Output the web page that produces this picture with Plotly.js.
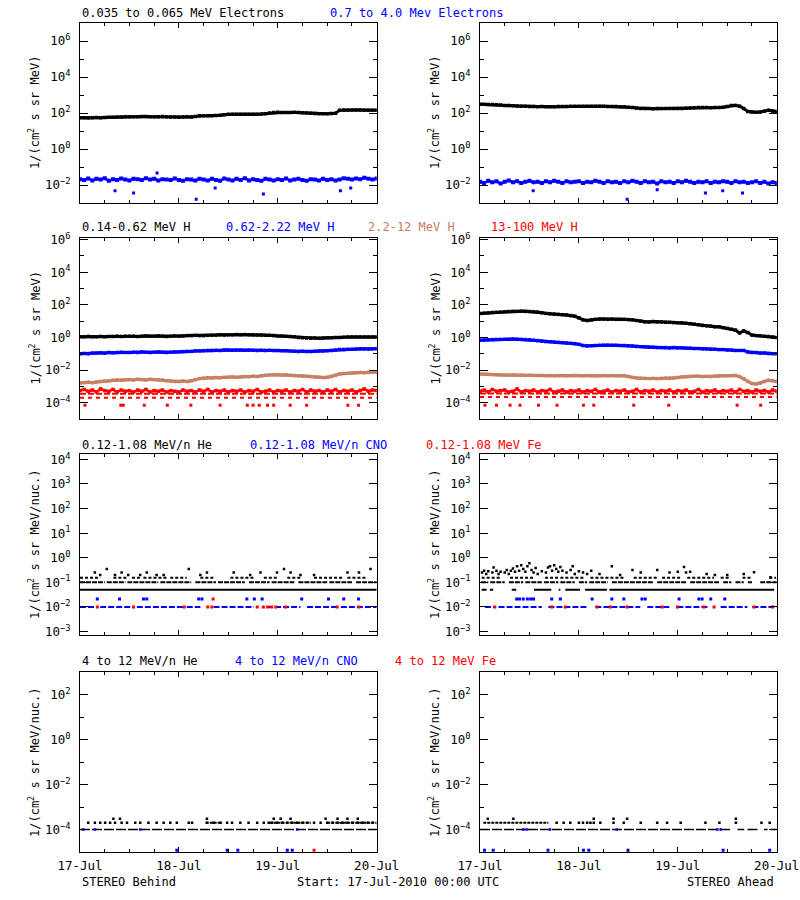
<!DOCTYPE html>
<html>
<head>
<meta charset="utf-8">
<script src="https://cdn.plot.ly/plotly-3.0.1.min.js"></script>
<style>html,body{margin:0;padding:0;background:#fff;}#chart{width:800px;height:900px;}</style>
</head>
<body>
<div id="chart"></div>
<script>
// ---------------- DATA ----------------
const dayLabels = ['17-Jul', '18-Jul', '19-Jul', '20-Jul'];
const dayHours = [0, 24, 48, 72];
const minorHours = [6, 12, 18, 30, 36, 42, 54, 60, 66];
// hourly sample times (hours since 17-Jul-2010 00:00 UTC)
const hours = Array.from({length: 73}, (_, i) => i);

// Row 1: electrons
const elecLoB = [55,54,53,55,56,55, 57,58,58,60,60,61, 62,62,61,63,63,62, 62,61,63,62,60,59,
  58,60,61,60,64,70, 70,71,70,72,74,80, 85,86,85,84,86,85, 84,86,88,92,100,108,
  110,108,106,108,110,105, 102,100,98,94,90,92, 90,94,98,140,145,148, 145,148,146,144,140,142,140];
const elecHiB = [0.021,0.019,0.023,0.018,0.022,0.020,0.024,0.017,0.021,0.019,0.023,0.020,
  0.018,0.022,0.021,0.019,0.024,0.020,0.022,0.018,0.021,0.020,0.019,0.023,
  0.019,0.017,0.021,0.020,0.018,0.022,0.020,0.018,0.022,0.019,0.017,0.023,
  0.020,0.018,0.022,0.019,0.024,0.018,0.021,0.019,0.017,0.022,0.020,0.018,
  0.021,0.019,0.023,0.018,0.020,0.022,0.019,0.017,0.021,0.020,0.018,0.022,
  0.019,0.021,0.018,0.020,0.024,0.022,0.020,0.023,0.021,0.025,0.022,0.020,0.023];
const elecHiB_outT = [8.5, 13, 18.7, 28.2, 32.8, 44.5, 63.2, 65.7];
const elecHiB_outV = [0.0048, 0.0036, 0.047, 0.0016, 0.0068, 0.0032, 0.0048, 0.0068];

const elecLoA = [310,305,300,295,290,280, 265,260,250,245,240,235, 230,228,225,230,225,222,
  225,228,230,232,235,238, 240,238,236,235,240,238, 235,232,230,228,222,220,
  210,200,190,180,178,176, 175,176,178,180,178,176, 178,180,186,192,198,200,
  202,200,198,200,205,210, 230,260,265,240,180,120, 112,110,115,125,140,128,120];
const elecHiA = [0.015,0.013,0.017,0.014,0.016,0.012,0.015,0.018,0.014,0.016,0.013,0.015,
  0.017,0.014,0.015,0.013,0.016,0.014,0.017,0.015,0.013,0.016,0.014,0.015,
  0.016,0.013,0.015,0.014,0.017,0.015,0.013,0.016,0.014,0.015,0.013,0.016,
  0.014,0.017,0.015,0.013,0.016,0.014,0.015,0.012,0.016,0.014,0.015,0.013,
  0.016,0.014,0.017,0.015,0.013,0.015,0.014,0.016,0.013,0.015,0.014,0.016,
  0.015,0.013,0.016,0.014,0.015,0.013,0.014,0.016,0.013,0.015,0.012,0.014,0.013];
const elecHiA_outT = [12.9, 35.7, 43, 54.7, 58.9, 63.7];
const elecHiA_outV = [0.0048, 0.0016, 0.0055, 0.0036, 0.0048, 0.0036];

// Row 2: protons
const hLoB = [1.1,1.1,1.15,1.1,1.1,1.15,1.1,1.15,1.15,1.2,1.15,1.2,
  1.2,1.2,1.15,1.2,1.25,1.2,1.2,1.25,1.2,1.15,1.2,1.25,
  1.2,1.25,1.3,1.3,1.35,1.3,1.3,1.35,1.4,1.4,1.45,1.4,
  1.45,1.45,1.5,1.45,1.5,1.45,1.45,1.4,1.4,1.35,1.35,1.3,
  1.25,1.25,1.2,1.15,1.1,1.0,0.95,0.92,0.9,0.92,0.9,0.92,
  0.95,0.95,1.0,1.0,1.02,1.05,1.05,1.05,1.08,1.05,1.05,1.08,1.05];
const hMidB = [0.10,0.105,0.10,0.11,0.11,0.115,0.11,0.12,0.115,0.12,0.125,0.12,
  0.12,0.125,0.12,0.13,0.125,0.12,0.125,0.13,0.125,0.12,0.125,0.13,
  0.13,0.135,0.14,0.14,0.15,0.15,0.155,0.16,0.16,0.165,0.16,0.17,
  0.17,0.165,0.17,0.17,0.165,0.17,0.165,0.16,0.165,0.16,0.165,0.16,
  0.16,0.155,0.155,0.15,0.145,0.14,0.145,0.14,0.14,0.145,0.15,0.15,
  0.155,0.16,0.17,0.18,0.185,0.19,0.19,0.195,0.2,0.2,0.195,0.2,0.2];
const hHiB = [0.0016,0.0017,0.0018,0.0017,0.0019,0.002,0.0021,0.0022,0.0024,0.0025,0.0024,0.0025,
  0.0026,0.0025,0.0027,0.0026,0.0025,0.0027,0.0026,0.0025,0.0024,0.0022,0.0021,0.002,
  0.002,0.0021,0.002,0.0022,0.0026,0.003,0.0032,0.0034,0.0033,0.0035,0.0034,0.0036,
  0.0037,0.0038,0.0036,0.0038,0.0040,0.0039,0.0042,0.0041,0.0045,0.0048,0.005,0.0052,
  0.0051,0.005,0.0052,0.0049,0.0047,0.0045,0.0044,0.0042,0.004,0.0037,0.0036,0.0035,
  0.0036,0.004,0.0048,0.0058,0.0062,0.0065,0.0066,0.0068,0.007,0.0068,0.0072,0.0075,0.0074];
const hTopB = [0.00055,0.00065,0.0005,0.0006,0.00045,0.0007,0.00055,0.0005,0.00065,0.00045,0.0006,0.0005,
  0.00055,0.00045,0.0006,0.0005,0.00065,0.00045,0.00055,0.0005,0.0006,0.00045,0.00055,0.0005,
  0.00045,0.0006,0.0005,0.00055,0.00045,0.0006,0.0005,0.00065,0.00045,0.00055,0.0005,0.0006,
  0.00045,0.00055,0.0005,0.0006,0.00045,0.00055,0.0005,0.00065,0.00045,0.0005,0.0006,0.00045,
  0.00055,0.0005,0.0006,0.00045,0.00055,0.0005,0.00065,0.00045,0.0006,0.0005,0.00055,0.00045,
  0.0006,0.0005,0.00065,0.00045,0.00055,0.0005,0.0006,0.00045,0.00055,0.0007,0.0005,0.0006,0.00055];
const hTopB_lowT = [1.2, 9.9, 10.5, 15.6, 21.2, 26.9, 34, 40.6, 42, 43.5, 45.5, 47, 51, 55, 65, 67.6];
const hTopB_levels = [0.00035, 0.0002];
const hTopLowLevel = 0.00007;

const hLoA = [30,31,32,34,35,36,38,39,40,40,41,40,
  39,38,36,33,30,28,27,26,25,24,22,20,
  16,12,11,12,13,13.5,13.5,13,13.5,13,13,13,
  12.5,12,11,10,9,9,9.5,9,9,8.5,8.5,8.2,
  8,8,7.5,7,6.5,6,5.5,5.2,5,4.5,4.5,4,
  3.6,3.2,2.8,1.9,2.5,2.0,1.4,1.3,1.25,1.2,1.15,1.05,1.0];
const hMidA = [0.68,0.70,0.72,0.74,0.75,0.76,0.78,0.78,0.80,0.78,0.76,0.74,
  0.72,0.68,0.64,0.60,0.56,0.54,0.52,0.50,0.48,0.46,0.44,0.42,
  0.38,0.32,0.30,0.31,0.32,0.33,0.34,0.34,0.33,0.33,0.32,0.32,
  0.31,0.30,0.28,0.27,0.26,0.25,0.25,0.24,0.24,0.24,0.23,0.24,
  0.23,0.23,0.22,0.22,0.21,0.21,0.20,0.20,0.19,0.19,0.18,0.18,
  0.17,0.17,0.16,0.16,0.16,0.13,0.12,0.12,0.11,0.11,0.105,0.10,0.10];
const hHiA = [0.0058,0.0056,0.0055,0.0053,0.0052,0.0050,0.0050,0.0049,0.0050,0.0049,0.0048,0.0047,
  0.0048,0.0047,0.0046,0.0047,0.0045,0.0046,0.0045,0.0046,0.0046,0.0045,0.0046,0.0047,
  0.0046,0.0045,0.0046,0.0045,0.0044,0.0045,0.0046,0.0045,0.0046,0.0045,0.0044,0.0045,
  0.0040,0.0035,0.0033,0.0032,0.0031,0.0030,0.0031,0.0030,0.0031,0.0032,0.0031,0.0032,
  0.0035,0.0038,0.0040,0.0041,0.0042,0.0042,0.0040,0.0041,0.0040,0.0042,0.0044,0.0045,
  0.0045,0.0046,0.0047,0.0040,0.0030,0.0020,0.0015,0.0014,0.0016,0.0020,0.0024,0.0022,0.0020];
const hTopA = [0.0005,0.0006,0.00045,0.00065,0.0005,0.00055,0.0006,0.00045,0.0005,0.0007,0.00045,0.00055,
  0.0005,0.0006,0.00045,0.00055,0.0005,0.00065,0.00045,0.0005,0.0006,0.00045,0.00055,0.0005,
  0.0006,0.00045,0.00055,0.0005,0.00065,0.00045,0.0005,0.0006,0.00045,0.00055,0.0005,0.0006,
  0.00045,0.0005,0.00065,0.00045,0.00055,0.0005,0.0006,0.00045,0.00055,0.0005,0.0006,0.00045,
  0.00055,0.0005,0.0006,0.00045,0.0005,0.00065,0.00045,0.00055,0.0005,0.0006,0.00045,0.00055,
  0.0005,0.0006,0.00045,0.00065,0.0005,0.00055,0.00045,0.0006,0.0005,0.00055,0.00045,0.0006,0.0005];
const hTopA_lowT = [1.2, 4, 7.3, 9.7, 14.2, 18.7, 25.1, 27.6, 37.3, 45.8, 62.4, 68.1];
const hTopA_levels = [0.00036, 0.00022];

// Row 3: 0.12-1.08 MeV/n heavy ions (quantised count levels)
const heLowLevels = [0.05, 0.1, 0.155];
const heB_seg005 = [[0, 72]];
const heB_seg01 = [[0,6],[6.5,11],[11.5,19],[19.5,27],[28,33],[33.5,40],[41,46],[46.5,52],[53,60],[60.5,66],[67,72]];
const heB_seg015 = [[0,4.9],[8.1,11.4],[12.6,14.6],[15.4,21.1],[21.9,25.9],[29.2,32.4],[36.5,42.2],[44.6,47.8],[50.3,53.5],[56.8,64.1],[64.9,69.7]];
const heB_upT = [3.6,4.9,6.5,8.5,10.1,11.7,14.6,16.2,18.6,20.3,26.4,29.2,30.8,37.3,41.3,43.8,47.8,49.5,51.1,53.5,56.8,64.9,67.7,70.5];
const heB_upV = [0.25,0.2,0.35,0.2,0.25,0.2,0.2,0.25,0.2,0.2,0.35,0.2,0.25,0.25,0.2,0.25,0.25,0.35,0.25,0.2,0.2,0.25,0.25,0.35];
const cnoLevels = [0.01, 0.021];
const cnoB_seg001 = [[0,4.1],[4.9,12.6],[13.8,25.1],[25.9,29.2],[32.4,42.2],[45.4,53.5],[55.1,62.4],[63.3,72]];
const cnoB_002T = [4.2,9.6,15.4,16.2,28.8,29.6,40.5,42.3,44.2,53.8,60.3,64,67.6];
const feB_001T = [4.2,13,25.3,31,32,43,44.5,45.5,46.5,47.5,49.9,62.4,67.7];
const feB_002T = [32.3];

const heA_seg005 = [[0.4,1.6],[2.4,3.2],[7.7,8.8],[13.1,17.3],[19.1,19.5],[20.7,24.3],[25.5,30.8],[31.4,71.4]];
const heA_seg01 = [[0.3,2],[2.5,6],[7,10.5],[11,15],[15.5,19],[19.5,23],[24,26],[26.5,31],[32,42],[43,50],[51,58],[59,61],[62,64],[65,66],[68,72]];
const heA_seg015 = [[0.4,4.9],[7.3,13],[15.8,19.1],[19.5,25.1],[26.8,34.9],[37.3,43],[44.2,48.7],[50.3,56.8],[58.4,60.8],[63.7,65.7],[70.2,71.8]];
const heA_upT = [0.5,1,1.5,2,3,3.3,4,4.5,5,6,6.5,7,7.5,8,8.5,9,9.5,10,10.5,11,11.5,12,12.5,13,13.5,14,15,16,16.5,17,17.5,18,18.5,19,19.5,20,21,22,22.5,23,24,25,26,27,29,32,34,37,39,43,46,48,49.5,50,51,55,57,60,64,66.5,70.5];
const heA_upV = [0.25,0.3,0.22,0.28,0.25,0.4,0.3,0.22,0.27,0.25,0.32,0.22,0.3,0.37,0.27,0.45,0.3,0.5,0.35,0.27,0.45,0.6,0.32,0.25,0.38,0.22,0.28,0.25,0.4,0.45,0.3,0.5,0.35,0.27,0.42,0.3,0.25,0.32,0.45,0.22,0.28,0.25,0.22,0.3,0.22,0.45,0.2,0.32,0.25,0.32,0.25,0.27,0.42,0.25,0.27,0.22,0.2,0.2,0.22,0.26,0.16];
const cnoA_seg001 = [[1.2,3.6],[4.5,15],[16.6,26],[28,38.9],[40.6,46.2],[47.9,55.2],[58.4,64.9],[66.1,72]];
const cnoA_002T = [8.9,9.6,10.5,11.5,12.3,13,17.4,19.5,27.2,32,34.9,39.3,40.1,48.3,53.1,53.9,56,59.4];
const feA_001T = [3.6,17.4,20.7,28.4,31.6,35.7,44.2,47.9,54.3,56.8,66.5,71];

// Row 4: 4-12 MeV/n heavy ions
const hiLevels = [0.0001, 0.0002, 0.0003, 0.000012];
const he4B_seg1 = [[0, 72]];
const he4B_2T = [2.0,3.6,4.9,6.1,7.3,8.5,10.1,11.4,13.4,14.6,16.6,18.6,20.3,21.9,23.5,26.4,27.2,30.8,32.4,34.1,35.7,36.9,38.9,40.9,43,44.6,45.8,46.6,47.8,49.1,50.3,51.5,52.7,54,55.2,56.8,58.4,60,61.3,62.5,63.7,64.9,66.1,67.4,68.6,69.8,71];
const he4B_seg2 = [[30.5,34.5],[46,56],[60,72]];
const he4B_3T = [8.1,9.7,30.8,47,48.7,51.1,59.6,62.5,64.9,67.4];
const cno4B_1T = [0.8,3.6,14.6,52.7];
const cno4B_lowT = [23.5,35.7,38.3,50.3,51.5];
const fe4B_lowT = [56.8];

const he4A_seg1 = [[0,61],[62.5,64.1],[64.9,67.7],[68.9,69.8],[70.6,72]];
const he4A_seg2 = [[0.8,16.6]];
const he4A_2T = [18.6,20.3,21.9,24,25,26,26.8,27.6,29.2,32.4,34.9,39,43,45.4,48.7,54.7,58.1,62.1,68.3,70.3];
const he4A_3T = [1.9,8.1,27.6,32.4,35.7,62.1];
const cno4A_1T = [10.5,11.4,17,33.2,57.6,58.4];
const cno4A_lowT = [1.1,3.2,16.5,25.1,26.4,35.9,59,70.3];

// Tick labels (exponents)
const yLabelExp = [[6,4,2,0,-2],[6,4,2,0,-2,-4],[4,3,2,1,0,-1,-2,-3],[2,0,-2,-4]];
const yMinorExp = [[7,5,3,1,-1,-3],[5,3,1,-1,-3,-5],[],[3,1,-1,-3,-5]];

// ---------------- DRAWING ----------------
const F = 'DejaVu Sans Mono, monospace';
const BLK = '#000000', BLU = '#0000ff', RED = '#ff0000', SIE = 'rgb(200,128,100)';
const traces = [];
function an(p) { return p === 1 ? '' : String(p); }
function line(p, x, y, color, width, dash) {
  traces.push({type: 'scatter', mode: 'lines', x: x, y: y, xaxis: 'x' + an(p), yaxis: 'y' + an(p),
    line: {color: color, width: width, dash: dash || 'solid'}, hoverinfo: 'skip', showlegend: false});
}
function band(p, x, y, color, width, msize) {
  traces.push({type: 'scatter', mode: 'lines+markers', x: x, y: y, xaxis: 'x' + an(p), yaxis: 'y' + an(p),
    line: {color: color, width: width}, marker: {symbol: 'square', size: msize, color: color, line: {width: 0}},
    hoverinfo: 'skip', showlegend: false});
}
function pts(p, x, y, color, size) {
  traces.push({type: 'scatter', mode: 'markers', x: x, y: y, xaxis: 'x' + an(p), yaxis: 'y' + an(p),
    marker: {symbol: 'square', size: size || 3, color: color, line: {width: 0}}, hoverinfo: 'skip', showlegend: false, cliponaxis: true});
}
function segs(p, list, level, color, width, dash) {
  const x = [], y = [];
  list.forEach(s => { x.push(s[0], s[1], null); y.push(level, level, null); });
  line(p, x, y, color, width, dash);
}
function lvl(p, times, level, color, size) { pts(p, times, times.map(() => level), color, size); }

// Panel 1 (Behind electrons), panel 2 (Ahead electrons)
band(1, hours, elecLoB, BLK, 3, 3.5);
band(1, hours, elecHiB, BLU, 2.5, 4);
pts(1, elecHiB_outT, elecHiB_outV, BLU, 3);
band(2, hours, elecLoA, BLK, 3, 3.5);
band(2, hours, elecHiA, BLU, 2.5, 4);
pts(2, elecHiA_outT, elecHiA_outV, BLU, 3);

// Panel 3/4 protons
band(3, hours, hLoB, BLK, 3, 3.5);
band(3, hours, hMidB, BLU, 3, 3.5);
band(3, hours, hHiB, SIE, 3, 3.5);
band(3, hours, hTopB, RED, 2.5, 3.5);
segs(3, [[0, 72]], hTopB_levels[0], RED, 2, '6px,2px');
segs(3, [[0, 72]], hTopB_levels[1], RED, 2, '4px,4px');
lvl(3, hTopB_lowT, hTopLowLevel, RED, 3);
band(4, hours, hLoA, BLK, 3, 3.5);
band(4, hours, hMidA, BLU, 3, 3.5);
band(4, hours, hHiA, SIE, 3, 3.5);
band(4, hours, hTopA, RED, 2.5, 3.5);
segs(4, [[0, 72]], hTopA_levels[0], RED, 2, '6px,2px');
segs(4, [[0, 72]], hTopA_levels[1], RED, 2, '4px,4px');
lvl(4, hTopA_lowT, hTopLowLevel, RED, 3);

// Panel 5/6 low-energy heavy ions
segs(5, heB_seg005, heLowLevels[0], BLK, 2);
segs(5, heB_seg01, heLowLevels[1], BLK, 2, '5px,1px');
segs(5, heB_seg015, heLowLevels[2], BLK, 2, '3px,2px');
pts(5, heB_upT, heB_upV, BLK, 2.5);
segs(5, cnoB_seg001, cnoLevels[0], BLU, 2, '6px,2px');
lvl(5, cnoB_002T, cnoLevels[1], BLU, 3);
lvl(5, feB_001T, cnoLevels[0], RED, 3);
lvl(5, feB_002T, cnoLevels[1], RED, 3);

segs(6, heA_seg005, heLowLevels[0], BLK, 2);
segs(6, heA_seg01, heLowLevels[1], BLK, 2, '5px,1px');
segs(6, heA_seg015, heLowLevels[2], BLK, 2, '3px,2px');
pts(6, heA_upT, heA_upV, BLK, 2.5);
segs(6, cnoA_seg001, cnoLevels[0], BLU, 2, '6px,2px');
lvl(6, cnoA_002T, cnoLevels[1], BLU, 3);
lvl(6, feA_001T, cnoLevels[0], RED, 3);

// Panel 7/8 high-energy heavy ions
segs(7, he4B_seg1, hiLevels[0], BLK, 1.5, '10px,2px');
segs(7, he4B_seg2, hiLevels[1], BLK, 2, '3px,1px');
lvl(7, he4B_2T, hiLevels[1], BLK, 2.5);
lvl(7, he4B_3T, hiLevels[2], BLK, 2.5);
lvl(7, cno4B_1T, hiLevels[0], BLU, 2.5);
lvl(7, cno4B_lowT, hiLevels[3], BLU, 3);
lvl(7, fe4B_lowT, hiLevels[3], RED, 3);

segs(8, he4A_seg1, hiLevels[0], BLK, 1.5, '10px,2px');
segs(8, he4A_seg2, hiLevels[1], BLK, 2, '3px,1px');
lvl(8, he4A_2T, hiLevels[1], BLK, 2.5);
lvl(8, he4A_3T, hiLevels[2], BLK, 2.5);
lvl(8, cno4A_1T, hiLevels[0], BLU, 2.5);
lvl(8, cno4A_lowT, hiLevels[3], BLU, 3);

// ---------------- LAYOUT ----------------
const W = 800, H = 900;
const colPx = [[80, 376.7], [480, 776.7]];
const rowPx = [[23, 203], [238, 419], [453.5, 634.5], [672, 852]];
const yRanges = [[-3, 7], [-5, 6.1], [-3.12, 4.24], [-5, 3]];
const layout = {width: W, height: H, margin: {l: 0, r: 0, t: 0, b: 0}, paper_bgcolor: '#fff', plot_bgcolor: '#fff',
  showlegend: false, font: {family: F, size: 12, color: '#000'}, annotations: []};

function supExp(e) { return '10<sup>' + (e < 0 ? '\u2212' + (-e) : e) + '</sup>'; }

for (let p = 1; p <= 8; p++) {
  const row = Math.floor((p - 1) / 2), col = (p - 1) % 2;
  const xd = [colPx[col][0] / W, colPx[col][1] / W];
  const yd = [1 - rowPx[row][1] / H, 1 - rowPx[row][0] / H];
  const bottom = row === 3;
  layout['xaxis' + an(p)] = {domain: xd, anchor: 'y' + an(p), range: [0, 72], tickmode: 'array',
    tickvals: dayHours, ticktext: dayLabels, showticklabels: bottom, ticks: 'inside', ticklen: 5, tickwidth: 1,
    tickcolor: '#000', showline: true, linecolor: '#000', linewidth: 1, mirror: 'ticks', showgrid: false, zeroline: false,
    minor: {tickmode: 'array', tickvals: minorHours, ticks: 'inside', ticklen: 3, tickcolor: '#000', showgrid: false},
    tickfont: {family: F, size: 12.5, color: '#000'}, ticklabelstandoff: 2, fixedrange: true};
  layout['yaxis' + an(p)] = {domain: yd, anchor: 'x' + an(p), type: 'log', range: yRanges[row], tickmode: 'array',
    tickvals: yLabelExp[row].map(e => Math.pow(10, e)), ticktext: yLabelExp[row].map(supExp),
    ticks: 'inside', ticklen: 8, tickwidth: 1, tickcolor: '#000', showline: true, linecolor: '#000', linewidth: 1,
    mirror: 'ticks', showgrid: false, zeroline: false,
    minor: {tickmode: 'array', tickvals: yMinorExp[row].map(e => Math.pow(10, e)), ticks: 'inside', ticklen: 4, tickcolor: '#000', showgrid: false},
    tickfont: {family: F, size: 12.5, color: '#000'}, ticklabelstandoff: 6, fixedrange: true};
}

function txt(text, xpx, ypx, color, xanchor, angle) {
  layout.annotations.push({text: text, xref: 'paper', yref: 'paper', x: xpx / W, y: 1 - ypx / H,
    xanchor: xanchor || 'left', yanchor: 'middle', showarrow: false, textangle: angle || 0,
    font: {family: F, size: 12, color: color}});
}
// panel titles
txt('0.035 to 0.065 MeV Electrons', 80, 13, BLK);
txt('0.7 to 4.0 Mev Electrons', 328, 13, BLU);
txt('0.14-0.62 MeV H', 80, 227, BLK);
txt('0.62-2.22 MeV H', 224, 227, BLU);
txt('2.2-12 MeV H', 366, 227, SIE);
txt('13-100 MeV H', 489, 227, RED);
txt('0.12-1.08 MeV/n He', 80, 445, BLK);
txt('0.12-1.08 MeV/n CNO', 248, 445, BLU);
txt('0.12-1.08 MeV Fe', 424, 445, RED);
txt('4 to 12 MeV/n He', 80, 661, BLK);
txt('4 to 12 MeV/n CNO', 233, 661, BLU);
txt('4 to 12 MeV Fe', 393, 661, RED);
// y-axis titles
const yTitles = ['1/(cm<sup>2</sup> s sr MeV)', '1/(cm<sup>2</sup> s sr MeV)', '1/(cm<sup>2</sup> s sr MeV/nuc.)', '1/(cm<sup>2</sup> s sr MeV/nuc.)'];
for (let r = 0; r < 4; r++) {
  const yc = (rowPx[r][0] + rowPx[r][1]) / 2;
  layout.annotations.push({text: yTitles[r], xref: 'paper', yref: 'paper', x: 34 / W, y: 1 - yc / H, xanchor: 'center', yanchor: 'middle', showarrow: false, textangle: -90, font: {family: F, size: 12, color: BLK}});
  layout.annotations.push({text: yTitles[r], xref: 'paper', yref: 'paper', x: 434 / W, y: 1 - yc / H, xanchor: 'center', yanchor: 'middle', showarrow: false, textangle: -90, font: {family: F, size: 12, color: BLK}});
}
// footer
txt('STEREO Behind', 80, 882, BLK);
txt('Start: 17-Jul-2010 00:00 UTC', 295, 882, BLK);
txt('STEREO Ahead', 776, 882, BLK, 'right');

Plotly.newPlot('chart', traces, layout, {staticPlot: true, displayModeBar: false});
</script>
</body>
</html>
